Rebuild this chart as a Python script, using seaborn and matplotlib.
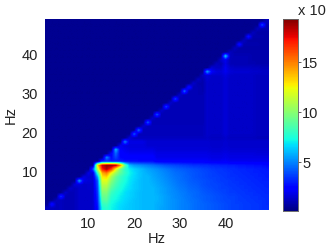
import matplotlib
matplotlib.use('Agg')

import numpy as np
import matplotlib.pyplot as plt
import seaborn as sns

# Hz values on the axes
tick_hz = [10, 20, 30, 40]
cbar_ticks = [5, 10, 15]
v_min = 0.1
v_max = 19.3

# cell values x10, one row per Hz from 49 at the top down to 1, columns 1..49
rows = [
    [4]*48 + [12],
    [4]*47 + [40, 9],
    [4]*46 + [12, 9, 9],
    [4]*45 + [12, 8, 8, 8],
    [4]*44 + [28, 9, 9, 9, 8],
    [4]*43 + [12, 8, 8, 8, 8, 8],
    [4]*42 + [28, 9, 9, 9, 9, 8, 8],
    [4]*41 + [12] + [8]*7,
    [4]*40 + [12] + [9]*8,
    [4]*39 + [65, 12, 10, 10, 10, 10, 9, 9, 9, 9],
    [4]*38 + [14, 20, 11, 10, 10, 10, 10, 9, 9, 9, 9],
    [4]*37 + [12, 10, 18, 11, 10, 10, 10, 10, 10, 9, 9, 9],
    [4]*36 + [16, 13, 13, 20, 14, 13, 13, 13, 13, 12, 12, 11, 11],
    [4]*35 + [55, 22, 17, 16, 20, 16, 15, 15, 15, 15, 14, 14, 13, 13],
    [4]*34 + [12, 16, 14, 14, 14, 17, 14, 13, 13, 13, 13, 13, 12, 12, 12],
    [4]*33 + [12, 9, 15, 13, 13, 13, 16, 13, 13, 13, 13, 13, 13, 12, 12, 12],
    [4]*32 + [14, 9, 9, 14, 13, 13, 13, 16, 13, 13, 13, 13, 13, 13, 12, 12, 12],
    [4]*31 + [30, 10, 10, 9, 14, 13, 13, 13, 16] + [13]*6 + [12]*3,
    [4]*30 + [45, 10, 10, 10, 9, 14, 13, 13, 13, 16] + [13]*6 + [12]*3,
    [4]*29 + [14] + [10]*5 + [14, 13, 13, 13, 16] + [13]*6 + [12]*3,
    [4]*28 + [38] + [10]*6 + [14, 13, 13, 13, 16] + [13]*6 + [12]*3,
    [4]*27 + [14] + [10]*7 + [14, 13, 13, 13, 16] + [13]*6 + [12]*3,
    [4]*26 + [38] + [10]*8 + [14, 13, 13, 13, 16] + [13]*6 + [12]*3,
    [4]*25 + [14] + [10]*9 + [14, 13, 13, 13, 16] + [13]*6 + [12]*3,
    [4]*24 + [40] + [10]*10 + [14, 13, 13, 13, 16] + [13]*6 + [12]*3,
    [4]*23 + [14] + [10]*11 + [14, 13, 13, 13, 16] + [13]*6 + [12]*3,
    [4]*22 + [42] + [10]*12 + [14, 13, 13, 13, 16] + [13]*6 + [12]*3,
    [4]*21 + [14] + [11]*13 + [14, 13, 13, 13, 16] + [13]*6 + [12]*3,
    [4]*20 + [45] + [11]*14 + [14, 13, 13, 13, 16] + [13]*6 + [12]*3,
    [4]*19 + [42] + [11]*15 + [14, 13, 13, 13, 16] + [13]*6 + [12]*3,
    [4]*18 + [16] + [12]*16 + [13, 12, 12, 12, 14] + [12]*6 + [11]*3,
    [4]*17 + [50] + [18]*4 + [15]*13 + [15, 14, 14, 14, 15] + [14]*6 + [14]*3,
    [4]*16 + [20] + [17]*5 + [15]*13 + [15, 14, 14, 14, 15] + [14]*6 + [14]*3,
    [4]*15 + [60, 22, 20] + [18]*6 + [16]*11 + [16, 15, 15, 15, 16] + [15]*6 + [15]*3,
    [4]*14 + [22, 45, 24, 22] + [21]*6 + [18]*11 + [18, 17, 17, 17, 18] + [17]*6 + [16]*3,
    [4]*13 + [50, 26, 38, 26, 24] + [24]*6 + [19]*11 + [19, 18, 18, 18, 19] + [18]*6 + [18]*3,
    [4]*12 + [30, 32, 30, 30, 30, 28, 28, 28] + [27]*4 + [23]*11 + [22, 21, 21, 21, 22] + [20]*6 + [20]*3,
    [4]*11 + [130, 180, 190, 190, 185, 150, 90, 60, 54, 52, 50, 48, 46, 44, 42, 40, 39, 38, 37, 36, 35, 34, 34, 33, 33, 32, 32, 31, 31, 30, 30, 29, 29, 28, 28, 27, 27, 26],
    [4]*10 + [40, 110, 170, 185, 165, 125, 95, 78, 70, 65, 62, 59, 56, 54, 52, 50, 48, 46, 44, 43, 42, 41, 40, 39, 38, 37, 36, 35, 35, 34, 33, 33, 32, 32, 31, 31, 30, 30, 29],
    [4]*9 + [18, 16, 80, 140, 150, 125, 105, 90, 80, 72, 67, 63, 60, 58, 56, 54, 52, 50, 48, 46, 45, 44, 42, 41, 40, 39, 38, 37, 36, 35, 35, 34, 33, 33, 32, 32, 31, 31, 30, 30],
    [4]*8 + [18, 15, 15, 55, 128, 132, 108, 92, 82, 75, 70, 66, 63, 60, 60, 57, 55, 53, 51, 49, 47, 46, 44, 43, 41, 40, 39, 38, 37, 37, 36, 35, 34, 34, 33, 33, 32, 32, 31, 31, 30],
    [4]*7 + [55, 18, 16, 15, 42, 120, 120, 100, 88, 80, 74, 69, 65, 62, 60, 60, 58, 56, 54, 52, 50, 48, 46, 45, 43, 42, 41, 40, 39, 38, 37, 36, 36, 35, 34, 34, 33, 33, 32, 32, 31, 31],
    [4]*6 + [16, 16, 13, 14, 14, 40, 112, 112, 94, 84, 77, 72, 68, 64, 62, 60, 60, 59, 57, 55, 53, 51, 49, 47, 46, 44, 43, 42, 40, 39, 38, 38, 37, 36, 35, 35, 34, 34, 33, 33, 32, 32, 31],
    [4]*5 + [14, 11, 14, 13, 14, 14, 38, 105, 105, 88, 80, 75, 70, 67, 64, 62, 60, 60, 60, 58, 56, 54, 52, 50, 48, 47, 45, 44, 43, 41, 40, 39, 38, 37, 37, 36, 35, 35, 34, 34, 33, 33, 32, 32],
    [4]*4 + [14, 10, 11, 14, 13, 13, 14, 36, 98, 98, 82, 76, 72, 68, 65, 63, 61, 60, 60, 60, 58, 56, 54, 52, 51, 49, 48, 46, 45, 44, 42, 41, 40, 39, 38, 37, 36, 36, 35, 35, 34, 34, 33, 33, 32],
    [4]*3 + [35, 11, 10, 11, 14, 13, 13, 14, 34, 92, 93, 78, 74, 70, 67, 65, 63, 61, 60, 60, 60, 59, 57, 55, 53, 51, 50, 48, 47, 45, 44, 43, 42, 41, 40, 39, 38, 37, 37, 36, 35, 35, 34, 34, 33, 33],
    [4]*2 + [12, 12, 10, 10, 11, 14, 13, 13, 14, 32, 87, 89, 75, 72, 69, 66, 64, 62, 61, 60, 60, 60, 59, 57, 55, 53, 52, 50, 49, 47, 46, 45, 43, 42, 41, 40, 39, 38, 38, 37, 36, 36, 35, 35, 34, 34, 33],
    [4]*1 + [28, 11, 12, 10, 10, 11, 14, 13, 13, 14, 30, 80, 82, 73, 70, 67, 65, 63, 62, 61, 60, 60, 60, 58, 57, 55, 53, 52, 50, 49, 48, 46, 45, 44, 43, 42, 41, 40, 39, 38, 37, 37, 36, 36, 35, 35, 34, 33],
    [12, 12, 11, 12, 10, 10, 11, 14, 13, 13, 14, 28, 75, 78, 72, 69, 66, 64, 63, 62, 61, 60, 60, 60, 58, 56, 55, 53, 52, 50, 49, 48, 46, 45, 44, 43, 42, 41, 40, 39, 38, 37, 37, 36, 36, 35, 35, 34, 34],
]

plt.rcParams['font.family'] = ['Liberation Sans', 'DejaVu Sans']
W, H = 332, 249
data = np.array(rows) / 10

fig = plt.figure(figsize=(W/100, H/100), dpi=100)
ax = fig.add_axes([45/W, 1-210/H, 224/W, 191/H])
cax = fig.add_axes([283/W, 1-211/H, 15/W, 192/H])

sns.heatmap(data, ax=ax, cbar_ax=cax, cmap='jet', vmin=v_min, vmax=v_max)
# the original is a smooth image, so soften the cells on top of the heatmap
ax.imshow(data, cmap='jet', vmin=v_min, vmax=v_max, interpolation='bilinear',
          extent=(0, 49, 49, 0), aspect='auto', zorder=3)

ax.set_xticks([t - 0.5 for t in tick_hz])
ax.set_xticklabels(tick_hz, rotation=0)
ax.set_yticks([49.5 - t for t in tick_hz])
ax.set_yticklabels(tick_hz, rotation=0)
ax.tick_params(length=0, labelsize=10.5, colors='#222222', pad=5)
ax.set_xlabel('Hz', fontsize=10.5, color='#222222', labelpad=1)
ax.set_ylabel('Hz', fontsize=10.5, color='#222222', labelpad=3)

cax.set_yticks(cbar_ticks)
cax.set_yticklabels(cbar_ticks)
cax.tick_params(length=2, width=0.5, labelsize=10.5, colors='#222222', pad=1)
for s in cax.spines.values():
    s.set_visible(True)
    s.set_linewidth(0.5)
    s.set_color('#666666')

fig.text(298/W, 1-11/H, 'x 10', fontsize=10.5, color='#222222', va='center', ha='left')

fig.savefig('out.png', dpi=100)
plt.close()
